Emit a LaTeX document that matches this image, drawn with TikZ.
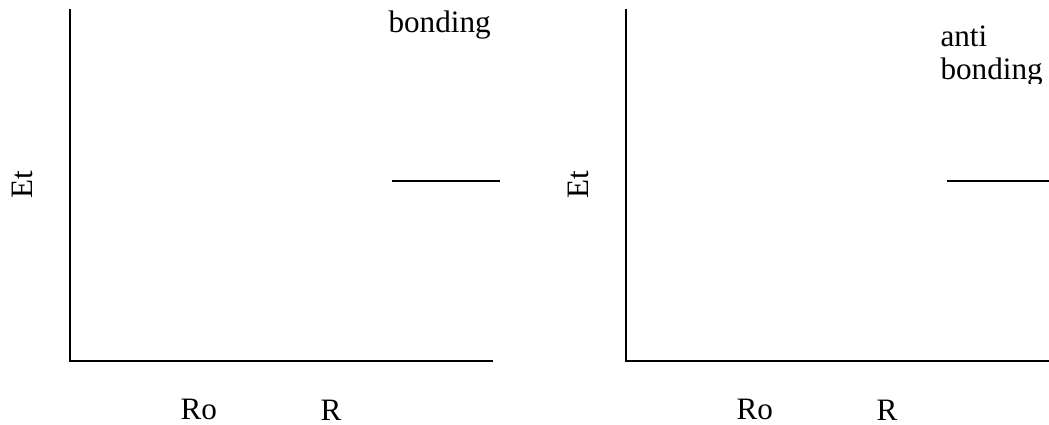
\documentclass[tikz,border=0pt]{standalone}
\usepackage{fontspec}
\setmainfont{Liberation Serif}
\usepackage{tikz}
\usetikzlibrary{positioning,calc}
\tikzset{
  axis/.style  ={line width=0.8pt,black},
  level/.style ={line width=0.8pt,black},
  lbl/.style   ={inner sep=0pt,font=\fontsize{12}{14}\selectfont,anchor=base west},
  etlbl/.style ={inner sep=0pt,font=\fontsize{12}{14}\selectfont,rotate=90},
}
\begin{document}
\begin{tikzpicture}[x=0.385pt,y=-0.385pt]
  \useasboundingbox (0,0) rectangle (1049,425);
  \foreach \x/\name/\xend/\lvl in {0/L/493/392,556/R/1049/947}{
     \coordinate (\name top) at (70+\x,9);
     \coordinate (\name org) at (70+\x,361);
     \coordinate (\name end) at (\xend,361);
     % axes
     \draw[axis] (\name top) -- (\name org) -- (\name end);
     % energy level
     \coordinate (\name lvA) at (\lvl,181);
     \coordinate (\name lvB) at (\lvl+108,181);
     \draw[level] (\name lvA) -- (\name lvB);
     \node[etlbl] (\name Et) at (22+\x,185) {Et};
     \node[lbl] (\name Ro) at (180+\x,419) {Ro};
     \node[lbl] (\name R) at (320+\x,420) {R};
  }
  \node[lbl] (bond) at (388,33) {bonding};
  \node[lbl] (anti) at (940,47) {anti};
  \begin{scope}
    \clip (900,50) rectangle (1049,84);
    \node[lbl] (abond) at (940,80) {bonding};
  \end{scope}
\end{tikzpicture}
\end{document}
